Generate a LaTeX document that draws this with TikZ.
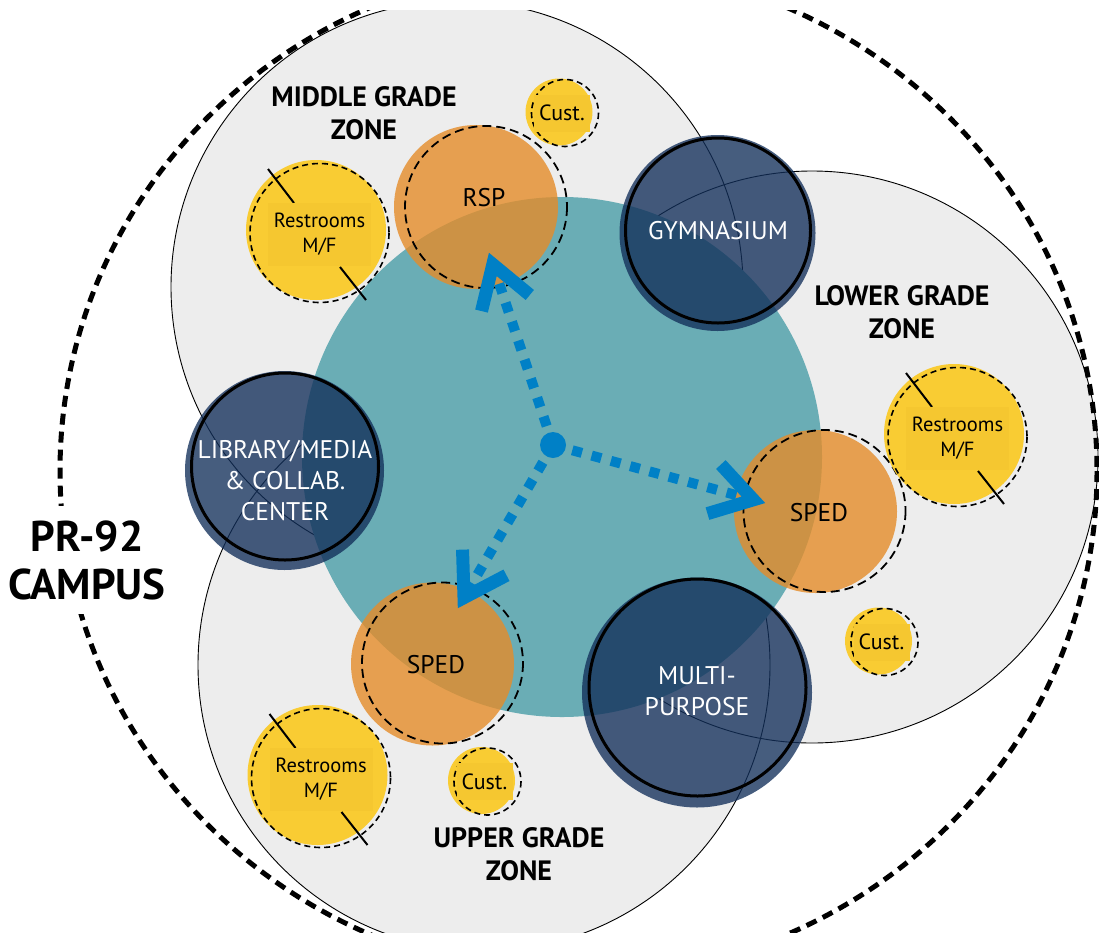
\documentclass[tikz,border=0pt]{standalone}
\usepackage{fontspec}
\setmainfont{PT Sans}
\usetikzlibrary{calc}
\definecolor{zonegray}{HTML}{EDEDED}
\definecolor{tealc}{HTML}{6AADB5}
\definecolor{navy}{HTML}{122F5A}
\definecolor{orng}{HTML}{E58C29}
\definecolor{ylw}{HTML}{F9CC33}
\definecolor{ylwbox}{HTML}{F5C730}
\definecolor{arrblue}{HTML}{0080C6}
\tikzset{
  zonefill/.style={fill=zonegray},
  zoneline/.style={draw=black, line width=0.9pt},
  navyfill/.style={fill=navy, fill opacity=0.78},
  navyring/.style={draw=black, line width=3pt},
  orfill/.style={fill=orng, fill opacity=0.8},
  dashring/.style={draw=black, line width=1.8pt, dash pattern=on 9pt off 5pt},
  smalldash/.style={draw=black, line width=1.6pt, dash pattern=on 6pt off 4pt},
  tickline/.style={draw=black, line width=2pt},
  navylbl/.style={text=white, font=\fontsize{25.5}{31}\selectfont, align=center, inner sep=0pt},
  roomlbl/.style={text=black, font=\fontsize{25.5}{30}\selectfont, inner sep=0pt},
  zonelbl/.style={font=\bfseries\fontsize{28}{33}\selectfont, align=center, inner sep=0pt},
  rbox/.style={fill=ylwbox, minimum width=103pt, minimum height=63pt, inner sep=0pt,
    align=center, font=\fontsize{20.5}{25}\selectfont},
  cbox/.style={fill=ylwbox, minimum width=56pt, minimum height=37pt, inner sep=0pt,
    font=\fontsize{22}{26}\selectfont},
  shaft/.style={draw=arrblue, line width=10pt, dash pattern=on 10pt off 10pt},
  chev/.style={draw=arrblue, line width=13pt, miter limit=10},
  campus/.style={draw=black, line width=5pt, dash pattern=on 11pt off 7pt},
}
\newcommand\restroom[3]{%
  \fill[ylw] (#2,#3) circle (70);
  \draw[smalldash] ({#2+3.5},{#3+3}) circle (69.5);
  \draw[tickline] ({#2-48},{#3-61}) -- ({#2-22},{#3-27});
  \draw[tickline] ({#2+24},{#3+37}) -- ({#2+50},{#3+70});
  \node[rbox] (#1) at ({#2+3.5},{#3+4.5}) {Restrooms\\M/F};
}
\newcommand\custroom[3]{%
  \fill[ylw] (#2,#3) circle (33.5);
  \draw[smalldash] ({#2+6},{#3+1}) circle (33.5);
  \node[cbox] (#1) at ({#2+3},{#3+1}) {Cust.};
}
\begin{document}
\begin{tikzpicture}[x=1pt,y=-1pt]
\useasboundingbox (0,0) rectangle (1099,935);
\begin{scope}
\clip (0,10) rectangle (1099,932);
% zones
\fill[zonefill] (457,287) circle (286);
\fill[zonefill] (812,457) circle (286);
\fill[zonefill] (484,665) circle (286);
\draw[zoneline] (457,287) circle (286);
\draw[zoneline] (812,457) circle (286);
\draw[zoneline] (484,665) circle (286);
% core
\fill[tealc] (562,457) circle (260);
% navy rooms
\fill[navyfill] (717.5,233) circle (98);
\draw[navyring] (718,230.5) circle (92.5);
\node[navylbl] (gym) at (718,231) {GYMNASIUM};
\fill[navyfill] (284.5,470.5) circle (99.5);
\draw[navyring] (285,466.5) circle (93.5);
\node[navylbl] (lib) at (285,481) {LIBRARY/MEDIA\\\& COLLAB.\\CENTER};
\fill[navyfill] (697,692.5) circle (115);
\draw[navyring] (697.5,687.5) circle (108.5);
\node[navylbl] (mp) at (697,691) {MULTI-\\PURPOSE};
% orange rooms
\fill[orfill] (476,207) circle (82);
\draw[dashring] (486,207) circle (81);
\node[roomlbl] (rsp) at (484,198) {RSP};
\fill[orfill] (432.5,664) circle (81.5);
\draw[dashring] (442.5,663) circle (80.5);
\node[roomlbl] (spedA) at (436,665) {SPED};
\fill[orfill] (815.5,511.5) circle (81.5);
\draw[dashring] (824.5,511) circle (81);
\node[roomlbl] (spedB) at (819,513) {SPED};
% restrooms and custodial
\restroom{restA}{316}{230}
\restroom{restB}{954}{434}
\restroom{restC}{317.5}{775}
\custroom{custA}{559}{112}
\custroom{custB}{481.5}{780.5}
\custroom{custC}{878.5}{641}
% arrows
\coordinate (ctr) at (553,445);
\coordinate (tipA) at (492.8,264.4);
\coordinate (tipB) at (753.4,499.8);
\coordinate (tipC) at (464,597.6);
\draw[shaft] (ctr) -- (tipA);
\draw[shaft] (ctr) -- (tipB);
\draw[shaft] (ctr) -- (tipC);
\foreach \t in {tipA,tipB,tipC}{
  \draw[chev] ($(\t)!48pt!32:(ctr)$) -- (\t) -- ($(\t)!48pt!-32:(ctr)$);
}
\fill[arrblue] (ctr) circle (13);
% zone labels
\node[zonelbl] (midz) at (364,113) {MIDDLE GRADE\\ZONE};
\node[zonelbl] (lowz) at (902,312) {LOWER GRADE\\ZONE};
\node[zonelbl] (uppz) at (519,854) {UPPER GRADE\\ZONE};
% campus boundary
\draw[campus] (578.5,471) ellipse [x radius=518.5, y radius=506];
\end{scope}
\node[fill=white, inner xsep=2pt, inner ysep=14pt, align=center,
  font=\bfseries\fontsize{43}{48}\selectfont] (campusl) at (87,560) {PR-92\\CAMPUS};
\end{tikzpicture}
\end{document}
